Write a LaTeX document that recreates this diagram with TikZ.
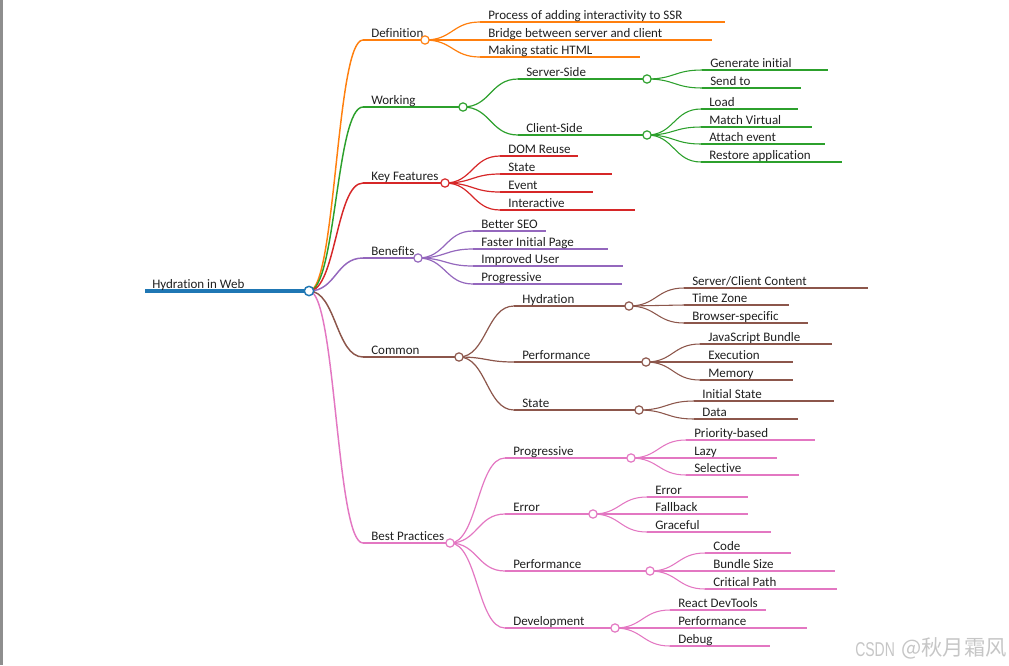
\documentclass[tikz,border=0pt]{standalone}
\usepackage{fontspec}
\setmainfont{Carlito}[Ligatures={NoCommon,NoContextual}]
\newfontfamily\wmlat{Liberation Sans}
\newfontfamily\wmcjk{Noto Sans CJK SC}
\usetikzlibrary{calc}
\pgfdeclarelayer{bg}
\pgfsetlayers{bg,main}
\definecolor{cBlue}{HTML}{1F77B4}
\definecolor{cOrange}{HTML}{FF7F0E}
\definecolor{cGreen}{HTML}{2CA02C}
\definecolor{cRed}{HTML}{D62728}
\definecolor{cPurple}{HTML}{9467BD}
\definecolor{cBrown}{HTML}{8C564B}
\definecolor{cPink}{HTML}{E377C2}
\definecolor{cBar}{HTML}{8E8E8E}
\definecolor{cMark}{HTML}{C6C6C6}
\tikzset{
  lbl/.style={anchor=base west, inner sep=0pt, font=\fontsize{9.75pt}{12pt}\selectfont, text=black!88},
  dotc/.style={circle, draw=#1, fill=white, inner sep=0pt, minimum size=6.2pt, line width=0.9pt},
  rootdot/.style={circle, draw=cBlue, fill=white, inner sep=0pt, minimum size=7pt, line width=1.1pt},
  wmark/.style={inner sep=0pt, text=cMark},
}
\newcommand\mmlink[3]{%
  \draw[#3] let \p1=(#1), \p2=(#2), \p3=($(#1)!0.5!(#2)$) in
    (\p1) .. controls (\x3,\y1) and (\x3,\y2) .. (\p2);}
% leaf: name, parent, startx, y, endx, text, color, lw
\newcommand\mmleaf[8]{%
  \coordinate (#1-s) at (#3,#4);
  \coordinate (#1-e) at (#5,#4);
  \begin{pgfonlayer}{bg}
    \mmlink{#2-c.center}{#1-s}{draw=#7,line width=#8}
    \draw[draw=#7,line width=#8] (#1-s) -- (#1-e);
  \end{pgfonlayer}
  \node[lbl] (#1) at ({#3+8},{#4-2.3}) {#6};
}
% branch: name, parent, startx, y, circlex, text, color, lw
\newcommand\mmbranch[8]{%
  \coordinate (#1-s) at (#3,#4);
  \begin{pgfonlayer}{bg}
    \mmlink{#2-c.center}{#1-s}{draw=#7,line width=#8}
    \draw[draw=#7,line width=#8] (#1-s) -- (#5,#4);
  \end{pgfonlayer}
  \node[lbl] (#1) at ({#3+8},{#4-2.3}) {#6};
  \node[dotc=#7] (#1-c) at (#5,#4) {};
}
\begin{document}
\begin{tikzpicture}[x=0.75pt,y=-0.75pt]
\useasboundingbox (0,0) rectangle (1009,665);
\fill[cBar] (0,0) rectangle (3,665);
% root
\coordinate (root-s) at (145,291);
\node[lbl] (root) at (152,288.5) {Hydration in Web};
\node[rootdot] (root-c) at (309,291) {};
\begin{pgfonlayer}{bg}
  \draw[cBlue, line width=2.3pt] (root-s) -- (root-c.center);
\end{pgfonlayer}
% level 1
\mmbranch{def}{root}{363}{40}{425}{Definition}{cOrange}{1.1pt}
\mmbranch{work}{root}{363}{107}{463}{Working}{cGreen}{1.1pt}
\mmbranch{key}{root}{363}{183}{445}{Key Features}{cRed}{1.1pt}
\mmbranch{ben}{root}{363}{258}{418}{Benefits}{cPurple}{1.1pt}
\mmbranch{com}{root}{363}{357}{459}{Common}{cBrown}{1.1pt}
\mmbranch{bp}{root}{363}{543}{450}{Best Practices}{cPink}{1.1pt}
% Definition
\mmleaf{def1}{def}{480}{22}{725}{Process of adding interactivity to SSR}{cOrange}{0.9pt}
\mmleaf{def2}{def}{480}{40}{712}{Bridge between server and client}{cOrange}{0.9pt}
\mmleaf{def3}{def}{480}{57}{640}{Making static HTML}{cOrange}{0.9pt}
% Working
\mmbranch{ss}{work}{518}{79}{647}{Server-Side}{cGreen}{0.9pt}
\mmbranch{cs}{work}{518}{135}{647}{Client-Side}{cGreen}{0.9pt}
\mmleaf{ss1}{ss}{702}{70}{828}{Generate initial}{cGreen}{0.8pt}
\mmleaf{ss2}{ss}{702}{88}{801}{Send to}{cGreen}{0.8pt}
\mmleaf{cs1}{cs}{701}{109}{798}{Load}{cGreen}{0.8pt}
\mmleaf{cs2}{cs}{701}{127}{812}{Match Virtual}{cGreen}{0.8pt}
\mmleaf{cs3}{cs}{701}{144}{825}{Attach event}{cGreen}{0.8pt}
\mmleaf{cs4}{cs}{701}{162}{842}{Restore application}{cGreen}{0.8pt}
% Key Features
\mmleaf{key1}{key}{500}{156}{578}{DOM Reuse}{cRed}{0.9pt}
\mmleaf{key2}{key}{500}{174}{612}{State}{cRed}{0.9pt}
\mmleaf{key3}{key}{500}{192}{593}{Event}{cRed}{0.9pt}
\mmleaf{key4}{key}{500}{210}{635}{Interactive}{cRed}{0.9pt}
% Benefits
\mmleaf{ben1}{ben}{473}{231}{546}{Better SEO}{cPurple}{0.9pt}
\mmleaf{ben2}{ben}{473}{249}{608}{Faster Initial Page}{cPurple}{0.9pt}
\mmleaf{ben3}{ben}{473}{266}{623}{Improved User}{cPurple}{0.9pt}
\mmleaf{ben4}{ben}{473}{284}{622}{Progressive}{cPurple}{0.9pt}
% Common
\mmbranch{hyd}{com}{514}{306}{629}{Hydration}{cBrown}{0.9pt}
\mmbranch{perf}{com}{514}{362}{646}{Performance}{cBrown}{0.9pt}
\mmbranch{st}{com}{514}{410}{639}{State}{cBrown}{0.9pt}
\mmleaf{hyd1}{hyd}{684}{288}{868}{Server/Client Content}{cBrown}{0.8pt}
\mmleaf{hyd2}{hyd}{684}{305}{789}{Time Zone}{cBrown}{0.8pt}
\mmleaf{hyd3}{hyd}{684}{323}{808}{Browser-specific}{cBrown}{0.8pt}
\mmleaf{perf1}{perf}{700}{344}{832}{JavaScript Bundle}{cBrown}{0.8pt}
\mmleaf{perf2}{perf}{700}{362}{793}{Execution}{cBrown}{0.8pt}
\mmleaf{perf3}{perf}{700}{380}{793}{Memory}{cBrown}{0.8pt}
\mmleaf{st1}{st}{694}{401}{834}{Initial State}{cBrown}{0.8pt}
\mmleaf{st2}{st}{694}{419}{798}{Data}{cBrown}{0.8pt}
% Best Practices
\mmbranch{prog}{bp}{505}{458}{631}{Progressive}{cPink}{0.9pt}
\mmbranch{err}{bp}{505}{514}{593}{Error}{cPink}{0.9pt}
\mmbranch{bperf}{bp}{505}{571}{650}{Performance}{cPink}{0.9pt}
\mmbranch{dev}{bp}{505}{628}{615}{Development}{cPink}{0.9pt}
\mmleaf{prog1}{prog}{686}{440}{815}{Priority-based}{cPink}{0.8pt}
\mmleaf{prog2}{prog}{686}{458}{777}{Lazy}{cPink}{0.8pt}
\mmleaf{prog3}{prog}{686}{475}{799}{Selective}{cPink}{0.8pt}
\mmleaf{err1}{err}{647}{497}{748}{Error}{cPink}{0.8pt}
\mmleaf{err2}{err}{647}{514}{748}{Fallback}{cPink}{0.8pt}
\mmleaf{err3}{err}{647}{532}{771}{Graceful}{cPink}{0.8pt}
\mmleaf{bperf1}{bperf}{705}{553}{791}{Code}{cPink}{0.8pt}
\mmleaf{bperf2}{bperf}{705}{571}{835}{Bundle Size}{cPink}{0.8pt}
\mmleaf{bperf3}{bperf}{705}{589}{837}{Critical Path}{cPink}{0.8pt}
\mmleaf{dev1}{dev}{670}{610}{766}{React DevTools}{cPink}{0.8pt}
\mmleaf{dev2}{dev}{670}{628}{807}{Performance}{cPink}{0.8pt}
\mmleaf{dev3}{dev}{670}{646}{770}{Debug}{cPink}{0.8pt}
% watermark
\node[wmark, anchor=base west] (wm1) at (855,656)
  {\scalebox{0.7}[1]{\wmlat\fontsize{15pt}{16pt}\selectfont CSDN}};
\node[wmark, anchor=base east] (wm2) at (1007,655.5)
  {\wmcjk\fontsize{16pt}{17pt}\selectfont @秋月霜风};
\end{tikzpicture}
\end{document}
